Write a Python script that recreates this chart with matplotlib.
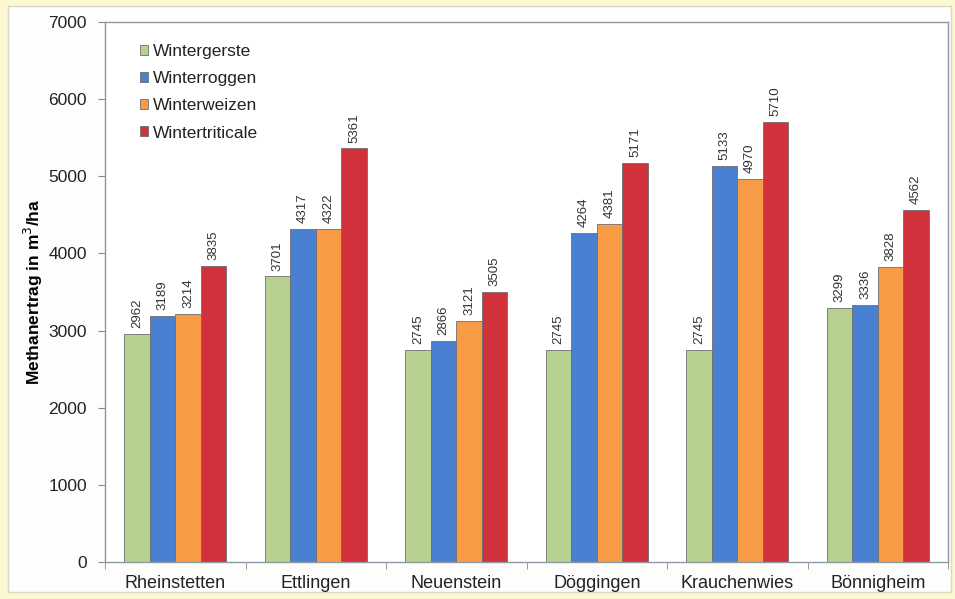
import numpy as np
import matplotlib.pyplot as plt
from matplotlib.patches import Rectangle

plt.rcParams['font.family'] = ['Liberation Sans', 'DejaVu Sans']

standorte = ['Rheinstetten', 'Ettlingen', 'Neuenstein', 'Döggingen', 'Krauchenwies', 'Bönnigheim']
sorten = ['Wintergerste', 'Winterroggen', 'Winterweizen', 'Wintertriticale']
gerste = [2962, 3701, 2745, 2745, 2745, 3299]
roggen = [3189, 4317, 2866, 4264, 5133, 3336]
weizen = [3214, 4322, 3121, 4381, 4970, 3828]
triticale = [3835, 5361, 3505, 5171, 5710, 4562]
farben = ['#b7d190', '#4a80d2', '#f79b45', '#d1313a']

fig = plt.figure(figsize=(9.55, 5.99), dpi=100, facecolor='#fbf8d2')
# weisses Innenfeld mit duennem Rand, hinter den Achsen
fig.patches.append(Rectangle((8 / 955, 7 / 599), 943 / 955, 586 / 599,
                             transform=fig.transFigure, facecolor='#fdfdfb',
                             edgecolor='#d8d8c8', linewidth=1.0, zorder=-5))

ax = fig.add_axes([105 / 955, 1 - 562 / 599, 843 / 955, 540 / 599])
ax.set_facecolor('#ffffff')

x = np.arange(len(standorte))
w = 0.182
werte = [gerste, roggen, weizen, triticale]
for i, (reihe, farbe, name) in enumerate(zip(werte, farben, sorten)):
    pos = x + (i - 1.5) * w
    ax.bar(pos, reihe, width=w, color=farbe, edgecolor='#6e6e6e', linewidth=0.6,
           label=name, zorder=2)
    for px, v in zip(pos, reihe):
        ax.text(px, v + 75, str(v), rotation=90, ha='center', va='bottom',
                fontsize=9.5, color='#333333')

ax.set_xlim(-0.5, len(standorte) - 0.5)
ax.set_ylim(0, 7000)
ax.set_yticks(range(0, 7001, 1000))
ax.set_xticks(x)
ax.set_xticklabels(standorte, fontsize=13, color='#222222')
ax.set_xticks(np.arange(-0.5, len(standorte)), minor=True)
ax.tick_params(axis='x', which='major', length=0, pad=9)
ax.tick_params(axis='x', which='minor', length=5, color='#888888', direction='out')
ax.tick_params(axis='y', length=5, color='#888888', labelsize=12.5, labelcolor='#222222', pad=8)

for s in ax.spines.values():
    s.set_color('#8d99a3')
    s.set_linewidth(1.0)

ax.set_ylabel('Methanertrag in m$^3$/ha', fontsize=12.5, fontweight='bold')
ax.yaxis.set_label_coords(-0.071, 0.5)

leg = ax.legend(loc='upper left', bbox_to_anchor=(0.033, 0.972), frameon=False,
                fontsize=12.5, handlelength=0.5, handleheight=0.5, handletextpad=0.25,
                labelspacing=0.70, borderaxespad=0)
for t in leg.get_texts():
    t.set_color('#222222')

fig.savefig('out.png', dpi=100, facecolor=fig.get_facecolor())
